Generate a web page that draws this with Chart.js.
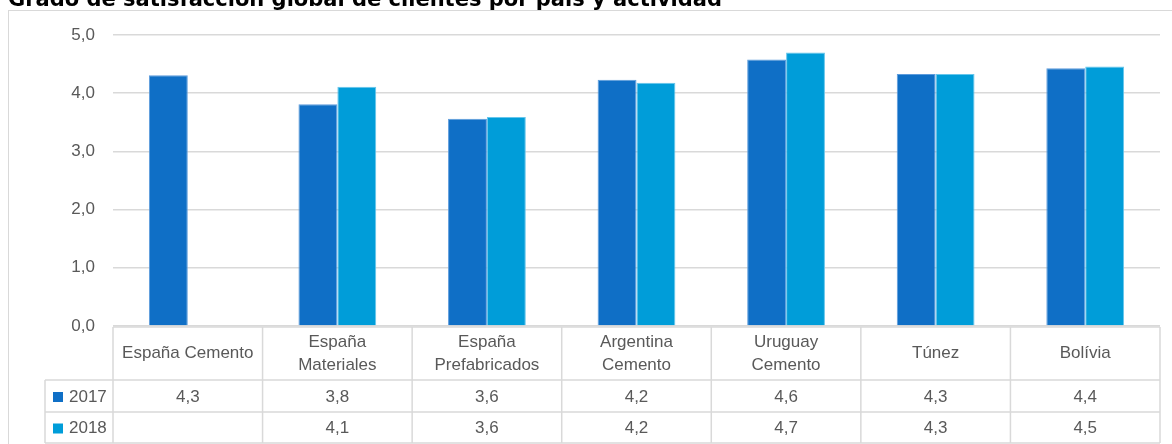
<!DOCTYPE html>
<html>
<head>
<meta charset="utf-8">
<script src="https://cdn.jsdelivr.net/npm/chart.js@4/dist/chart.umd.min.js"></script>
<style>
    body { margin: 0; background: #fff; }
    #wrap { position: relative; width: 1172px; height: 444px; overflow: hidden; }
    #title {
        position: absolute; left: 8px; top: -13px;
        font: bold 21px "DejaVu Sans", sans-serif; color: #000;
        line-height: 24px; white-space: nowrap; z-index: 2;
    }
</style>
</head>
<body>
<div id="wrap">
    <div id="title">Grado de satisfacción global de clientes por país y actividad</div>
    <canvas id="satisfChart" width="1172" height="444"></canvas>
</div>
<script>
// data
const categories = ['España Cemento', ['España', 'Materiales'], ['España', 'Prefabricados'],
    ['Argentina', 'Cemento'], ['Uruguay', 'Cemento'], 'Túnez', 'Bolívia'];
const seriesNames = ['2017', '2018'];
const values2017 = [4.31, 3.81, 3.56, 4.23, 4.58, 4.33, 4.43];
const values2018 = [null, 4.11, 3.59, 4.18, 4.70, 4.33, 4.46];
const yTicks = [0, 1, 2, 3, 4, 5];
const colors = ['#0F6FC6', '#009DD9'];
const edgeColors = ['#5C9BDC', '#66C6EC'];

const gridColor = '#d9d9d9';
const textColor = '#595959';
const textFont = '17px "Liberation Sans", Arial, sans-serif';

function fmt(v) {
    return (v === null || v === undefined) ? '' : v.toFixed(1).replace('.', ',');
}

// frame around the chart + data table under the plot
const tablePlugin = {
    id: 'dataTable',
    beforeDraw(chart) {
        const ctx = chart.ctx;
        ctx.save();
        ctx.strokeStyle = gridColor;
        ctx.lineWidth = 1;
        ctx.strokeRect(8.5, 10.5, 1300, 600);
        ctx.restore();
    },
    afterDraw(chart) {
        const ctx = chart.ctx;
        const area = chart.chartArea;
        const x = chart.scales.x;
        const n = categories.length;
        const step = (area.right - area.left) / n;
        const top = area.bottom + 1;
        const rowTops = [top, top + 53, top + 85, top + 116];
        const legLeft = 45;

        ctx.save();
        ctx.strokeStyle = gridColor;
        ctx.lineWidth = 1.5;
        ctx.beginPath();
        // horizontal lines
        ctx.moveTo(area.left, rowTops[0]); ctx.lineTo(area.right, rowTops[0]);
        for (let r = 1; r < rowTops.length; r++) {
            ctx.moveTo(legLeft, rowTops[r]); ctx.lineTo(area.right, rowTops[r]);
        }
        // vertical lines
        ctx.moveTo(legLeft, rowTops[1]); ctx.lineTo(legLeft, rowTops[3]);
        for (let i = 0; i <= n; i++) {
            const xx = area.left + i * step;
            ctx.moveTo(xx, rowTops[0]); ctx.lineTo(xx, rowTops[3]);
        }
        ctx.stroke();

        ctx.fillStyle = textColor;
        ctx.font = textFont;
        ctx.textAlign = 'center';
        ctx.textBaseline = 'middle';
        const headMid = (rowTops[0] + rowTops[1]) / 2;
        categories.forEach((c, i) => {
            const cx = x.getPixelForValue(i);
            const lines = Array.isArray(c) ? c : [c];
            const lh = 23;
            lines.forEach((ln, k) => {
                ctx.fillText(ln, cx, headMid + (k - (lines.length - 1) / 2) * lh);
            });
        });

        const rows = [values2017, values2018];
        rows.forEach((vals, r) => {
            const mid = (rowTops[r + 1] + rowTops[r + 2]) / 2 + 1;
            ctx.textAlign = 'center';
            vals.forEach((v, i) => {
                ctx.fillText(fmt(v), x.getPixelForValue(i), mid);
            });
            ctx.fillStyle = colors[r];
            ctx.fillRect(53, mid - 5, 10, 10);
            ctx.fillStyle = textColor;
            ctx.textAlign = 'left';
            ctx.fillText(seriesNames[r], 69, mid);
            ctx.fillStyle = textColor;
        });
        ctx.restore();
    }
};

const ctx = document.getElementById('satisfChart');
new Chart(ctx, {
    type: 'bar',
    data: {
        labels: categories,
        datasets: [
            {
                label: seriesNames[0],
                data: values2017,
                backgroundColor: colors[0],
                borderColor: edgeColors[0],
                borderWidth: { top: 1, left: 1, right: 1, bottom: 0 },
                categoryPercentage: 0.52,
                barPercentage: 1.0
            },
            {
                label: seriesNames[1],
                data: values2018,
                backgroundColor: colors[1],
                borderColor: edgeColors[1],
                borderWidth: { top: 1, left: 1, right: 1, bottom: 0 },
                categoryPercentage: 0.52,
                barPercentage: 1.0
            }
        ]
    },
    options: {
        responsive: false,
        animation: false,
        layout: { padding: { left: 0, right: 12, top: 35, bottom: 118 } },
        plugins: {
            legend: { display: false },
            tooltip: { enabled: false },
            title: { display: false }
        },
        scales: {
            x: {
                display: false
            },
            y: {
                min: yTicks[0],
                max: yTicks[yTicks.length - 1],
                afterBuildTicks(axis) {
                    axis.ticks = yTicks.map(v => ({ value: v }));
                },
                afterFit(axis) {
                    axis.width = 113;
                },
                border: { display: false },
                grid: {
                    color: gridColor,
                    lineWidth: 1.5,
                    drawTicks: false
                },
                ticks: {
                    padding: 18,
                    color: textColor,
                    font: { family: '"Liberation Sans", Arial, sans-serif', size: 17 },
                    callback: v => fmt(v)
                }
            }
        }
    },
    plugins: [tablePlugin]
});
</script>
</body>
</html>
